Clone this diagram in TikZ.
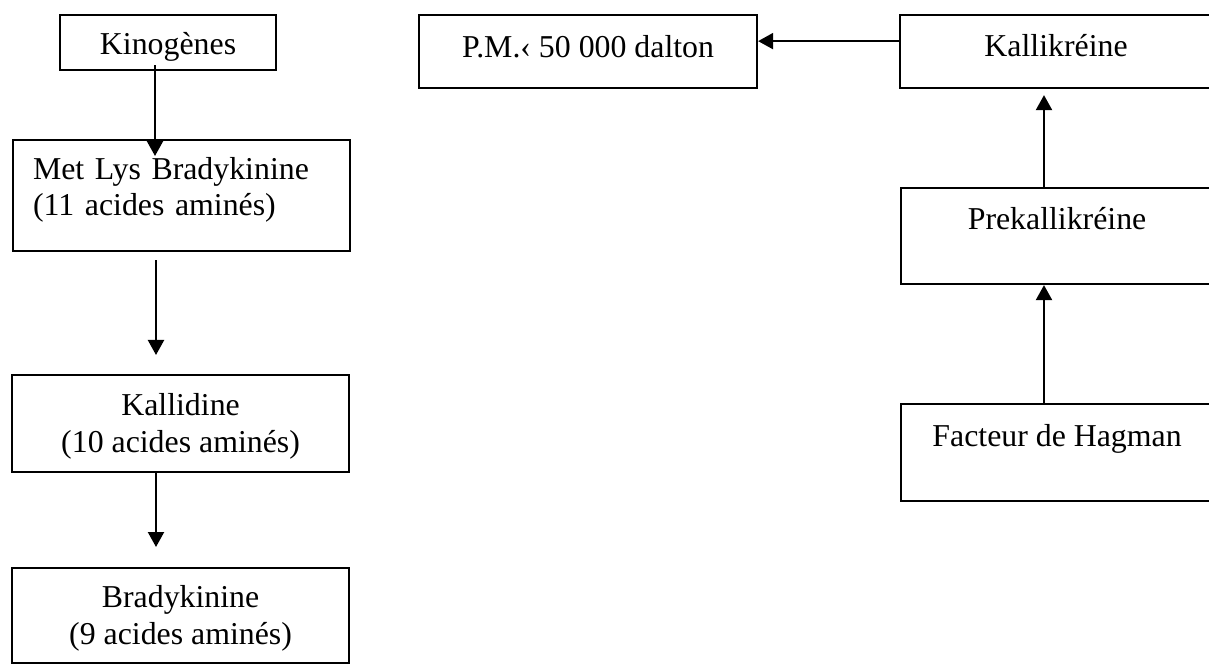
\documentclass[tikz,border=0pt]{standalone}
\usepackage{fontspec}
\setmainfont{Liberation Serif}
\usetikzlibrary{arrows.meta}

\newcommand{\px}[1]{\fpeval{#1*0.377}pt}

\tikzset{every path/.style={line width=0.8pt},
  boite/.style={draw, rectangle, anchor=north west, inner xsep=0pt, inner ysep=0pt,
    font=\fontsize{12}{13.8}\selectfont},
  fleche/.style={-{Triangle[length=\px{15},width=\px{16}]}}}

\begin{document}
\begin{tikzpicture}[x=\px{1},y=-\px{1}]
\useasboundingbox (0,0) rectangle (1209,664);

\node[boite, minimum width=\px{216}, text height=\px{39}, text depth=\px{16}] (kino) at (59,14) {Kinogènes};
\node[boite, text width=\px{297}, inner xsep=\px{20}, align=left, text height=\px{39}, text depth=\px{72}] (metlys) at (12,139) {Met Lys Bradykinine\\(11 acides aminés)};
\node[boite, minimum width=\px{337}, align=center, text height=\px{77}, text depth=\px{20}] (kallidine) at (11,374) {Kallidine\\(10 acides aminés)};
\node[boite, minimum width=\px{337}, align=center, text height=\px{76}, text depth=\px{19}] (brady) at (11,567) {Bradykinine\\(9 acides aminés)};

\node[boite, minimum width=\px{338}, text height=\px{42}, text depth=\px{31}] (pm) at (418,14) {P.M.‹ 50 000 dalton};
\node[boite, minimum width=\px{312}, text height=\px{41}, text depth=\px{32}] (kallik) at (899,14) {Kallikréine};
\node[boite, minimum width=\px{312}, text height=\px{41}, text depth=\px{55}] (prekallik) at (900,187) {Prekallikréine};
\node[boite, minimum width=\px{312}, text height=\px{42}, text depth=\px{55}] (hagman) at (900,403) {Facteur de Hagman};

\draw[fleche] ([shift={(96,-6)}]kino.south west) -- ([shift={(143,17)}]metlys.north west);
\draw[fleche] ([shift={(144,8)}]metlys.south west) -- ([shift={(145,-19)}]kallidine.north west);
\draw[fleche] ([shift={(145,0)}]kallidine.south west) -- ([shift={(145,-20)}]brady.north west);
\draw[fleche] ([shift={(0,-48)}]kallik.south west) -- ([shift={(0,-48)}]pm.south east);
\draw[fleche] ([shift={(144,0)}]prekallik.north west) -- ([shift={(145,6)}]kallik.south west);
\draw[fleche] ([shift={(144,0)}]hagman.north west) -- ([shift={(144,0)}]prekallik.south west);
\end{tikzpicture}
\end{document}
